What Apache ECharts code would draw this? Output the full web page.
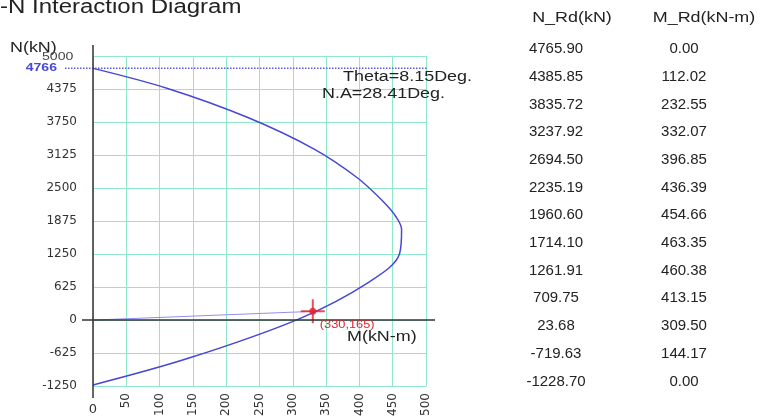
<!DOCTYPE html>
<html>
<head>
<meta charset="utf-8">
<script src="https://cdn.jsdelivr.net/npm/echarts@6/dist/echarts.min.js"></script>
<style>
  html, body { margin: 0; padding: 0; background: #fff; }
  #chart { width: 766px; height: 419px; }
</style>
</head>
<body>
<div id="chart"></div>
<script>
// Design resistance pairs of the section (axial force and moment)
const nRd = [4765.90, 4385.85, 3835.72, 3237.92, 2694.50, 2235.19, 1960.60, 1714.10, 1261.91, 709.75, 23.68, -719.63, -1228.70];
const mRd = [0.00, 112.02, 232.55, 332.07, 396.85, 436.39, 454.66, 463.35, 460.38, 413.15, 309.50, 144.17, 0.00];

// Axis ranges
const nMin = -1250, nMaxAxis = 5000, nStep = 625;
const mMin = 0, mMaxAxis = 500, mStep = 50;

// Applied load point and reference values
const loadM = 330;
const loadN = 165;
const loadLabel = '(330,165)';
const nPeak = 4766;
const thetaText = 'Theta=8.15Deg.';
const naText = 'N.A=28.41Deg.';

const titleText = 'M-N Interaction Diagram';
const headerN = 'N_Rd(kN)';
const headerM = 'M_Rd(kN-m)';

const FONT = 'Liberation Sans, Arial, sans-serif';
const AXIS_FONT = 'DejaVu Sans, sans-serif';
const WIDE = 1.28;   // horizontal stretch of the annotation text

const chart = echarts.init(document.getElementById('chart'));

const curve = mRd.map((m, i) => [m, nRd[i]]);

chart.setOption({
  animation: false,
  grid: { left: 93, right: 340, top: 56, bottom: 31 },
  xAxis: {
    type: 'value', min: mMin, max: mMaxAxis, interval: mStep,
    axisLine: { show: false, onZero: false }, axisTick: { show: false },
    splitLine: { show: true, lineStyle: { color: '#8ee8cc', width: 1 } },
    axisLabel: { rotate: 90, fontSize: 12, color: '#333', fontFamily: AXIS_FONT, margin: 7,
      formatter: v => (v === mMin ? '' : String(v)) }
  },
  yAxis: {
    type: 'value', min: nMin, max: nMaxAxis, interval: nStep,
    axisLine: { show: false, onZero: false }, axisTick: { show: false },
    splitLine: { show: true, lineStyle: { color: '#8ee8cc', width: 1 } },
    axisLabel: { fontSize: 12, color: '#333', fontFamily: AXIS_FONT, margin: 16,
      formatter: v => (v === nMaxAxis ? '' : String(v)) }
  },
  series: [
    {
      type: 'line', data: curve, smooth: 0.35, symbol: 'none',
      lineStyle: { color: '#4646d8', width: 1.5 }, z: 3
    },
    {
      type: 'line', data: [[0, 0], [loadM, loadN]], symbol: 'none',
      lineStyle: { color: '#8f8ff0', width: 1 }, z: 2
    },
    {
      type: 'scatter', data: [[loadM, loadN]],
      symbol: 'path://M11,0h2v11h11v2h-11v11h-2v-11h-11v-2h11z', symbolSize: 24,
      itemStyle: { color: '#e3222e' }, z: 5
    },
    {
      type: 'scatter', data: [[loadM, loadN]], symbol: 'circle', symbolSize: 7,
      itemStyle: { color: '#e3222e' }, z: 5
    }
  ]
});

// Decorations placed from axis coordinates
const p0 = chart.convertToPixel({ gridIndex: 0 }, [0, 0]);
const pTop = chart.convertToPixel({ gridIndex: 0 }, [mMaxAxis, nMaxAxis]);
const pBot = chart.convertToPixel({ gridIndex: 0 }, [mMaxAxis, nMin]);
const pPeak = chart.convertToPixel({ gridIndex: 0 }, [0, nPeak]);
const pLoad = chart.convertToPixel({ gridIndex: 0 }, [loadM, loadN]);

const mc = document.createElement('canvas').getContext('2d');
mc.font = '20px ' + FONT;
const mWidth = mc.measureText('M').width * 1.2;

// text helper; sx stretches the text horizontally about its anchor
const txt = (text, x, y, opts, sx) => ({
  type: 'text', x, y, silent: true, z: 20,
  scaleX: sx || 1, originX: 0, originY: 0,
  style: Object.assign({ text, x: 0, y: 0, fill: '#222', font: '14px ' + FONT, textVerticalAlign: 'middle' }, opts || {})
});

const graphics = [
  // axis lines
  { type: 'line', z: 10, shape: { x1: p0[0], y1: pTop[1] - 11, x2: p0[0], y2: pBot[1] + 12 },
    style: { stroke: '#333', lineWidth: 1.5 } },
  { type: 'line', z: 10, shape: { x1: p0[0] - 11, y1: p0[1], x2: pTop[0] + 9, y2: p0[1] },
    style: { stroke: '#333', lineWidth: 1.5 } },
  // peak axial capacity marker line
  { type: 'line', z: 9, shape: { x1: p0[0] - 28, y1: pPeak[1], x2: pTop[0] + 1, y2: pPeak[1] },
    style: { stroke: '#5a5ae6', lineWidth: 1.5, lineDash: [1.5, 1.5] } },
  txt(String(nPeak), p0[0] - 36, pPeak[1], { fill: '#4848d8', font: 'bold 11px ' + FONT, textAlign: 'right' }, WIDE),
  txt('N(kN)', 10, 48, { font: '14px ' + FONT }, WIDE),
  txt('5000', 42, pTop[1] + 1, { font: '11px ' + FONT, fill: '#444' }, WIDE),
  txt(String(mMin), p0[0], pBot[1] + 24, { font: '13px ' + AXIS_FONT, fill: '#333', textAlign: 'center' }),
  txt('M(kN-m)', 347, 337, { font: '14px ' + FONT }, WIDE),
  txt(thetaText, 343, 77, { font: '14px ' + FONT }, WIDE),
  txt(naText, 322, 94, { font: '14px ' + FONT }, WIDE),
  txt(loadLabel, pLoad[0] + 7, pLoad[1] + 14, { font: '10px ' + FONT, fill: '#e3222e' }, WIDE),
  txt(titleText, -mWidth, 7, { font: '20px ' + FONT }, 1.2),
  txt(headerN, 572, 18, { textAlign: 'center', font: '14px ' + FONT }, WIDE),
  txt(headerM, 704, 18, { textAlign: 'center', font: '14px ' + FONT }, WIDE)
];

// table of resistance pairs
nRd.forEach((n, i) => {
  const y = 49 + i * 27.7;
  graphics.push(txt(n.toFixed(2), 556, y, { textAlign: 'center', font: '15px ' + FONT }));
  graphics.push(txt(mRd[i].toFixed(2), 684, y, { textAlign: 'center', font: '15px ' + FONT }));
});

chart.setOption({ graphic: graphics });
</script>
</body>
</html>
